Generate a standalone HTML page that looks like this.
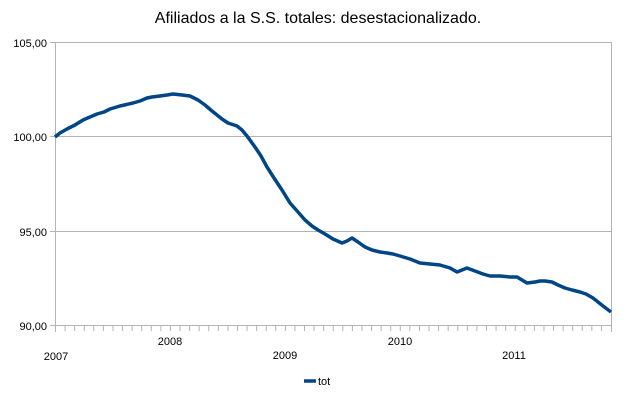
<!DOCTYPE html>
<html><head><style>body{margin:0;background:#fff}</style></head><body>
<svg width="637" height="403" xmlns="http://www.w3.org/2000/svg" font-family="Liberation Sans, sans-serif">
<rect width="637" height="403" fill="#fff"/>
<text x="318" y="23" font-size="16" text-anchor="middle" fill="#000">Afiliados a la S.S. totales: desestacionalizado.</text>
<g stroke="#b3b3b3" stroke-width="1">
<line x1="55" y1="42.5" x2="611" y2="42.5"/>
<line x1="55" y1="136.5" x2="611" y2="136.5"/>
<line x1="55" y1="231.5" x2="611" y2="231.5"/>
<line x1="50" y1="325.5" x2="611" y2="325.5"/>
<line x1="50" y1="42.5" x2="55" y2="42.5"/>
<line x1="50" y1="136.5" x2="55" y2="136.5"/>
<line x1="50" y1="231.5" x2="55" y2="231.5"/>
<line x1="55.5" y1="42" x2="55.5" y2="332"/>
<line x1="611.5" y1="42" x2="611.5" y2="332"/>
</g>
<g stroke="#b3b3b3" stroke-width="1">
<line x1="65.08" y1="325" x2="65.08" y2="331"/><line x1="74.66" y1="325" x2="74.66" y2="331"/><line x1="84.23" y1="325" x2="84.23" y2="331"/><line x1="93.81" y1="325" x2="93.81" y2="331"/><line x1="103.39" y1="325" x2="103.39" y2="331"/><line x1="112.97" y1="325" x2="112.97" y2="331"/><line x1="122.54" y1="325" x2="122.54" y2="331"/><line x1="132.12" y1="325" x2="132.12" y2="331"/><line x1="141.70" y1="325" x2="141.70" y2="331"/><line x1="151.28" y1="325" x2="151.28" y2="331"/><line x1="160.86" y1="325" x2="160.86" y2="331"/><line x1="170.43" y1="325" x2="170.43" y2="331"/><line x1="180.01" y1="325" x2="180.01" y2="331"/><line x1="189.59" y1="325" x2="189.59" y2="331"/><line x1="199.17" y1="325" x2="199.17" y2="331"/><line x1="208.74" y1="325" x2="208.74" y2="331"/><line x1="218.32" y1="325" x2="218.32" y2="331"/><line x1="227.90" y1="325" x2="227.90" y2="331"/><line x1="237.48" y1="325" x2="237.48" y2="331"/><line x1="247.05" y1="325" x2="247.05" y2="331"/><line x1="256.63" y1="325" x2="256.63" y2="331"/><line x1="266.21" y1="325" x2="266.21" y2="331"/><line x1="275.79" y1="325" x2="275.79" y2="331"/><line x1="285.36" y1="325" x2="285.36" y2="331"/><line x1="294.94" y1="325" x2="294.94" y2="331"/><line x1="304.52" y1="325" x2="304.52" y2="331"/><line x1="314.10" y1="325" x2="314.10" y2="331"/><line x1="323.67" y1="325" x2="323.67" y2="331"/><line x1="333.25" y1="325" x2="333.25" y2="331"/><line x1="342.83" y1="325" x2="342.83" y2="331"/><line x1="352.41" y1="325" x2="352.41" y2="331"/><line x1="361.98" y1="325" x2="361.98" y2="331"/><line x1="371.56" y1="325" x2="371.56" y2="331"/><line x1="381.14" y1="325" x2="381.14" y2="331"/><line x1="390.72" y1="325" x2="390.72" y2="331"/><line x1="400.29" y1="325" x2="400.29" y2="331"/><line x1="409.87" y1="325" x2="409.87" y2="331"/><line x1="419.45" y1="325" x2="419.45" y2="331"/><line x1="429.03" y1="325" x2="429.03" y2="331"/><line x1="438.60" y1="325" x2="438.60" y2="331"/><line x1="448.18" y1="325" x2="448.18" y2="331"/><line x1="457.76" y1="325" x2="457.76" y2="331"/><line x1="467.34" y1="325" x2="467.34" y2="331"/><line x1="476.91" y1="325" x2="476.91" y2="331"/><line x1="486.49" y1="325" x2="486.49" y2="331"/><line x1="496.07" y1="325" x2="496.07" y2="331"/><line x1="505.65" y1="325" x2="505.65" y2="331"/><line x1="515.22" y1="325" x2="515.22" y2="331"/><line x1="524.80" y1="325" x2="524.80" y2="331"/><line x1="534.38" y1="325" x2="534.38" y2="331"/><line x1="543.96" y1="325" x2="543.96" y2="331"/><line x1="553.53" y1="325" x2="553.53" y2="331"/><line x1="563.11" y1="325" x2="563.11" y2="331"/><line x1="572.69" y1="325" x2="572.69" y2="331"/><line x1="582.27" y1="325" x2="582.27" y2="331"/><line x1="591.84" y1="325" x2="591.84" y2="331"/><line x1="601.42" y1="325" x2="601.42" y2="331"/>
</g>
<g font-size="11" fill="#000" text-anchor="end">
<text x="47" y="47">105,00</text>
<text x="47" y="141">100,00</text>
<text x="47" y="236">95,00</text>
<text x="47" y="330">90,00</text>
</g>
<g font-size="11" fill="#000" text-anchor="middle">
<text x="56" y="360">2007</text>
<text x="170" y="345">2008</text>
<text x="285" y="359">2009</text>
<text x="400" y="345">2010</text>
<text x="514" y="359">2011</text>
</g>
<polyline fill="none" stroke="#004586" stroke-width="3.5" stroke-linejoin="round" points="55,137 60,133 67,129 75,125 83,120 90,117 97,114 104,112 110,109 120,106 133,103 140,101 147,98 152,97 160,96 167,95 173,94 182,95 190,96 198,100 205,105 212,111 217,115 222,119 228,123 237,126 242,130 247,136 255,147 261,156 267,167 274,178 282,190 290,203 298,212 305,220 312,226 318,230 325,234 333,239 342,243 347,241 352,238 358,242 365,247 372,250 380,252 387,253 393,254 400,256 410,259 420,263 430,264 440,265 450,268 457,272 462,270 467,268 475,271 483,274 490,276 500,276 510,277 517,277 522,280 527,283 535,282 540,281 545,281 552,282 558,285 565,288 572,290 580,292 586,294 593,298 598,302 603,306 611,312"/>
<line x1="304" y1="381" x2="316" y2="381" stroke="#004586" stroke-width="3.5"/>
<text x="318" y="385" font-size="11" fill="#000">tot</text>
</svg>
</body></html>
